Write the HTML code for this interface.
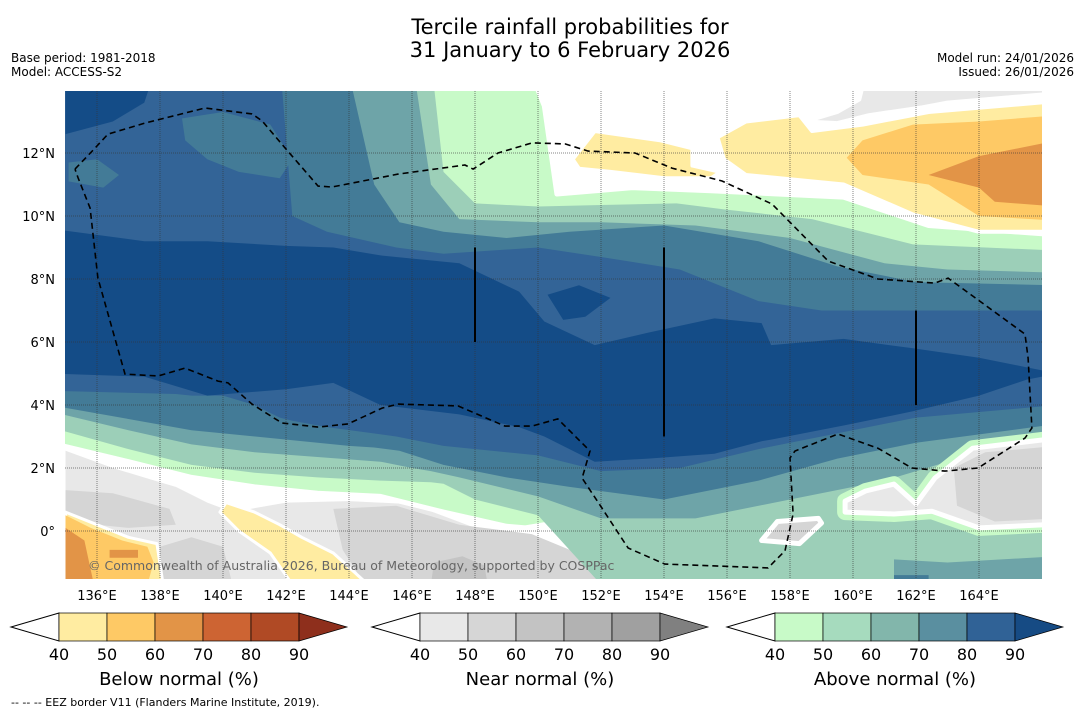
<!DOCTYPE html>
<html><head><meta charset="utf-8"><style>
html,body{margin:0;padding:0;background:#fff;}
svg{display:block;font-family:"DejaVu Sans","Liberation Sans",sans-serif;}
</style></head><body>
<svg id="chart" width="1085" height="713" viewBox="0 0 1085 713">
<defs><clipPath id="mapclip"><rect x="65" y="91" width="977" height="488"/></clipPath></defs>
<text x="570" y="34" text-anchor="middle" font-size="21" fill="#000">Tercile rainfall probabilities for</text>
<text x="570" y="57" text-anchor="middle" font-size="21" fill="#000">31 January to 6 February 2026</text>
<text x="11" y="62" font-size="12">Base period: 1981-2018</text>
<text x="11" y="76" font-size="12">Model: ACCESS-S2</text>
<text x="1074" y="62" font-size="12" text-anchor="end">Model run: 24/01/2026</text>
<text x="1074" y="76" font-size="12" text-anchor="end">Issued: 26/01/2026</text>
<g id="map" clip-path="url(#mapclip)"><rect x="65" y="91" width="977" height="488" fill="#fff"/></g>
<g id="axes"></g>
<g id="bars"></g>
<text x="11" y="706" font-size="11">--  --  -- EEZ border V11 (Flanders Marine Institute, 2019).</text>
</svg>
<script>
// ---- data (lon/lat, degrees) ----
const lonTicks=[136,138,140,142,144,146,148,150,152,154,156,158,160,162,164];
const latTicks=[0,2,4,6,8,10,12];
const latTickLabels=["0°","2°N","4°N","6°N","8°N","10°N","12°N"];
const cbTickLabels=["40","50","60","70","80","90"];

const l1Lon=[135,137,139,141,143,145,147,149,149.6,150.2,150.6,153,155.5,159.7,162.4,166];
const l1N=[15,15,15,15,15,15,15,15,15,13.5,10.7,10.9,10.8,10.6,9.7,9.4];
const l1S=[2.8,2.2,1.7,1.4,1.2,1.1,0.6,0.15,0.1,0.2,0.1,-1.7,-1.7,-1.7,-1.7,-1.7];
const l2Lon=[135,137,139,141,143,145,146.6,147,148,150,152,154.4,156,158.7,161.9,166];
const l2N=[15,15,15,15,15,15,15,11.4,10.4,10.3,10.35,10.4,10.2,9.9,9.1,8.9];
const l2S=[3.3,2.6,2.1,1.85,1.7,1.6,1.55,1.5,1.0,0.5,-1.7,-1.7,-1.7,-1.7,-1.7,-1.7];
const l3Lon=[135,137,139,141,143,145,146,146.6,147.5,150,152,155,158,161,163,166];
const l3N=[15,15,15,15,15,15,15,11.0,9.9,9.8,9.8,9.7,9.3,8.5,8.3,8.2];
const l3S=[3.8,3.2,2.75,2.5,2.35,2.2,2.0,1.9,1.7,1.1,0.4,0.4,1.0,1.6,2.2,3.1];
const l4Lon=[135,139,144,144.8,145.6,147,149,151,154,157,159.5,162,166];
const l4N=[15,15,14.5,11,9.8,9.5,9.3,9.5,9.7,9.2,8.4,7.9,7.8];
const l4S=[4.0,3.2,2.7,2.65,2.55,2.1,1.7,1.4,1.0,1.6,2.3,2.8,3.4];
const l5Lon=[135,138.5,139,140,141,141.8,142.2,143.3,145.5,147,150,152,154.5,157,159,162,166];
const l5N=[15,15,15,15,15,15,10.0,9.5,9.0,8.8,9.0,8.7,8.3,7.3,7.0,7.0,7.0];
const l5S=[4.45,4.35,4.3,4.3,4.0,3.6,3.5,3.3,3.0,2.7,2.4,1.9,2.0,2.6,3.0,3.6,4.0];
const l6Lon=[135,137.5,139.5,142,143.5,145,147.5,149.4,150.2,151.8,153.5,155.6,157.1,157.4,159.7,161.9,164,165.5,166];
const l6N=[9.6,9.2,9.2,9.05,9.0,8.75,8.5,7.6,6.65,5.9,6.3,6.75,6.6,5.9,6.1,5.8,5.5,5.2,5.0];
const l6S=[5.0,4.9,4.3,4.5,4.7,4.0,3.7,3.3,3.0,2.2,2.3,2.45,2.85,2.9,3.35,3.8,4.3,4.8,5.0];

const eezLon=[135.30,135.94,136.35,137.52,139.43,140.92,141.24,141.97,143.02,143.46,145.56,147.68,147.94,148.73,149.81,150.86,151.59,153.08,154.25,155.84,157.43,159.21,160.79,162.60,163.02,165.46,165.56,165.68,165.46,163.97,162.92,161.87,160.79,159.52,158.16,158.00,158.10,157.84,157.30,154.03,152.86,152.03,151.40,151.65,150.63,149.81,148.95,147.46,145.56,145.05,143.97,143.02,141.87,140.92,140.16,139.84,138.79,137.94,136.89,136.03,135.78,135.40,135.30];
const eezLat=[11.49,12.16,12.60,12.95,13.43,13.24,13.02,12.16,10.95,10.92,11.33,11.62,11.49,12.00,12.32,12.29,12.06,12.00,11.52,11.11,10.38,8.57,8.00,7.87,8.03,6.25,5.49,3.27,2.95,2.00,1.90,2.00,2.63,3.08,2.54,2.32,0.54,-0.63,-1.17,-1.05,-0.54,0.73,1.68,2.54,3.56,3.33,3.33,3.97,4.03,3.90,3.40,3.30,3.43,4.03,4.70,4.76,5.17,4.92,4.98,8.03,10.25,11.21,11.49];
const meridLon=[148,154,162];
const meridTop=[9,9,7];
const meridBot=[6,3,4];

// ---- projection ----
function X(lon){return 97+(lon-136)*31.5;}
function Y(lat){return 531-lat*31.5;}
const NS="http://www.w3.org/2000/svg";
const map=document.getElementById('map');
function ptsOf(lons,lats){return lons.map((l,i)=>X(l).toFixed(1)+','+Y(lats[i]).toFixed(1)).join(' ');}
function band(lons,north,south,fill,name,stroke,sw){
  const ls=lons.slice();ls[0]-=0.5;ls[ls.length-1]+=0.5;
  const p=ptsOf(ls,north)+' '+ptsOf(ls.slice().reverse(),south.slice().reverse());
  const el=document.createElementNS(NS,'polygon');
  el.setAttribute('points',p);el.setAttribute('fill',fill);
  if(stroke){el.setAttribute('stroke',stroke);el.setAttribute('stroke-width',sw);el.setAttribute('stroke-linejoin','round');}
  
  
  map.appendChild(el);return el;
}
function poly(lons,lats,fill,name,stroke,sw){
  const el=document.createElementNS(NS,'polygon');
  el.setAttribute('points',ptsOf(lons,lats));el.setAttribute('fill',fill);
  if(stroke){el.setAttribute('stroke',stroke);el.setAttribute('stroke-width',sw);el.setAttribute('stroke-linejoin','round');}
  
  
  map.appendChild(el);return el;
}
// below/near lower-left
poly([135,136.5,138,138.5,139.5,140.3,142,144,146,148,150,152.5,152.5,135],[2.55,2.0,1.55,1.4,0.9,0.6,0.9,0.95,0.85,0.1,-0.2,-1.7,-1.7,-1.7],'#e8e8e8','near-normal-40-sw');
poly([135,136.5,138.3,138.5,137,135],[1.3,1.2,0.7,0.2,0.1,0.3],'#d5d5d5','near-normal-50-blob-a');
poly([138,139,140,140.3,138],[-0.5,-0.2,-0.5,-1.7,-1.7],'#d5d5d5','near-normal-50-blob-c');
poly([143.5,145.5,147.5,149.8,151.5,152.5,144.5,143.8],[0.7,0.8,0.2,-0.1,-0.8,-1.7,-1.7,-0.6],'#d5d5d5','near-normal-50-blob-b');
poly([146.7,147.6,148.3,148.4,146.6],[-1.0,-0.8,-1.1,-1.7,-1.7],'#c4c4c4','near-normal-60-blob');
poly([140.1,141,141.8,142.5,143.5,144.6,142.2,141.5,140.5,139.9],[0.9,0.6,0.2,-0.2,-0.7,-1.7,-1.7,-0.7,0.0,0.6],'#ffeca1','below-normal-40-stripe','#fff',3);
poly([135,136,137,137.9,138.1,135],[0.6,0.2,-0.2,-0.4,-1.7,-1.7],'#ffeca1','below-normal-40-sw','#fff',3);
poly([135,135.8,136.8,137.6,137.8,137.6,135],[0.5,0.1,-0.3,-0.5,-1.0,-1.7,-1.7],'#fec965','below-normal-50-sw');
poly([135,135.6,135.9,135],[0.1,-0.3,-1.7,-1.7],'#e29447','below-normal-60-sw');
poly([136.4,137.3,137.3,136.4],[-0.6,-0.6,-0.85,-0.85],'#e29447','below-normal-60-blob');
// above normal bands
band(l1Lon,l1N,l1S,'#c8fac8','above-normal-40-band','#fff',5);
band(l2Lon,l2N,l2S,'#9ccfb8','above-normal-50-band');
band(l3Lon,l3N,l3S,'#6ea4a8','above-normal-60-band');
band(l4Lon,l4N,l4S,'#437b97','above-normal-70-band');
band(l5Lon,l5N,l5S,'#336497','above-normal-80-band');
band(l6Lon,l6N,l6S,'#144c87','above-normal-90-band');
poly([138.7,140,141.5,142.2,141.8,140.5,139.5,138.8],[13.1,13.3,12.9,11.8,11.2,11.4,11.8,12.4],'#437b97','above-normal-70-n-blob');
poly([135,137.8,137.5,136.5,135],[14.5,14.5,13.6,13.0,12.6],'#144c87','above-normal-90-nw-blob');
poly([135.1,136,136.7,136.2,135.1],[11.7,11.8,11.3,10.9,11.1],'#437b97','above-normal-70-nw-blob');
poly([150.3,151.3,152.3,151.5,150.8],[7.5,7.8,7.4,6.8,6.7],'#144c87','above-normal-90-blob');
poly([161.3,163,166.5,166.5,161.3],[-0.9,-1.0,-0.8,-1.7,-1.7],'#6ea4a8','above-normal-60-se-blob');
poly([161.3,162.4,162.4,161.3],[-1.4,-1.4,-1.7,-1.7],'#437b97','above-normal-70-se-blob');
// near normal SE region
const seLon=[159.75,160.4,161.3,162.0,162.6,163.8,166.5,166.5,164.0,162.5,161.3,159.75];
const seLat=[0.95,1.27,1.49,0.86,1.68,2.63,2.95,0.22,0.1,0.63,0.54,0.6];
poly(seLon,seLat,'#c8fac8','above-normal-40-se-rim','#c8fac8',16);
poly(seLon,seLat,'#e8e8e8','near-normal-40-se','#fff',5);
poly([163.2,164.2,166.5,166.5,164.5,163.3],[2.0,2.5,2.7,0.4,0.3,0.8],'#d5d5d5','near-normal-50-se');
poly([157.1,157.6,158.9,159.0,158.3],[-0.3,0.3,0.4,0.25,-0.4],'#d5d5d5','near-normal-50-island','#fff',5);
// top right below-normal
poly([158.5,159.5,160.2,160.4,166.5,166.5,163,162.2,160.5,159.5],[13.0,13.3,13.7,14.5,14.5,13.9,13.6,13.45,13.2,12.95],'#e8e8e8','near-normal-40-ne','#fff',4);
poly([151.1,151.8,153.9,154.9,154.9,155.8,155.5,154.0,152.3,151.3],[11.8,12.7,12.4,12.15,11.6,11.4,11.2,11.2,11.4,11.5],'#ffeca1','below-normal-40-blob','#fff',4);
poly([155.7,156.6,158.3,158.7,160.3,162.4,166.5,166.5,164.0,161.9,159.7,156.6,155.9],[12.5,13.0,13.2,12.7,12.9,13.3,13.65,9.5,9.5,10.05,11.0,11.3,11.8],'#ffeca1','below-normal-40-ne','#fff',4);
poly([159.8,160.3,161.9,164.0,166.5,166.5,164.0,162.4,160.3],[11.85,12.4,12.9,13.0,13.2,9.85,10.0,11.0,11.3],'#fec965','below-normal-50-ne');
poly([162.4,164,166.5,166.5,164.5,164],[11.3,11.9,12.4,10.3,10.45,10.9],'#e29447','below-normal-60-ne');
// gridlines
lonTicks.forEach(l=>{const g=document.createElementNS(NS,'line');g.setAttribute('x1',X(l));g.setAttribute('x2',X(l));g.setAttribute('y1',91);g.setAttribute('y2',579);g.setAttribute('stroke','#333');g.setAttribute('stroke-opacity','0.6');g.setAttribute('stroke-width','1');g.setAttribute('stroke-dasharray','1,1');


map.appendChild(g);});
latTicks.forEach(l=>{const g=document.createElementNS(NS,'line');g.setAttribute('x1',65);g.setAttribute('x2',1042);g.setAttribute('y1',Y(l));g.setAttribute('y2',Y(l));g.setAttribute('stroke','#333');g.setAttribute('stroke-opacity','0.6');g.setAttribute('stroke-width','1');g.setAttribute('stroke-dasharray','1,1');


map.appendChild(g);});
// boundary lines
meridLon.forEach((l,i)=>{const g=document.createElementNS(NS,'line');g.setAttribute('x1',X(l));g.setAttribute('x2',X(l));g.setAttribute('y1',Y(meridTop[i]));g.setAttribute('y2',Y(meridBot[i]));g.setAttribute('stroke','#000');g.setAttribute('stroke-width','2');


map.appendChild(g);});
const eez=document.createElementNS(NS,'polyline');
eez.setAttribute('points',ptsOf(eezLon,eezLat));eez.setAttribute('fill','none');eez.setAttribute('stroke','#000');eez.setAttribute('stroke-width','1.6');eez.setAttribute('stroke-dasharray','6,4');


map.appendChild(eez);
const wm=document.createElementNS(NS,'text');
wm.setAttribute('x',88);wm.setAttribute('y',570);wm.setAttribute('font-size','12.5');wm.setAttribute('fill','#666');wm.textContent='© Commonwealth of Australia 2026, Bureau of Meteorology, supported by COSPPac';


map.appendChild(wm);
// axes labels
const axes=document.getElementById('axes');
lonTicks.forEach(l=>{const t=document.createElementNS(NS,'text');t.setAttribute('x',X(l));t.setAttribute('y',600);t.setAttribute('text-anchor','middle');t.setAttribute('font-size','13');t.textContent=l+'°E';


axes.appendChild(t);});
latTicks.forEach((l,i)=>{const t=document.createElementNS(NS,'text');t.setAttribute('x',55);t.setAttribute('y',Y(l)+5);t.setAttribute('text-anchor','end');t.setAttribute('font-size','13');t.textContent=latTickLabels[i];


axes.appendChild(t);});
// colorbars
const bars=document.getElementById('bars');
const cbStarts=[59,420,775];
const cbTitles=['Below normal (%)','Near normal (%)','Above normal (%)'];
const cbNames=['below-normal-colorbar','near-normal-colorbar','above-normal-colorbar'];
const cbColors=[['#ffeca1','#fec965','#e29447','#cd6433','#b04a25','#8e2f1c'],['#e8e8e8','#d6d6d6','#c3c3c3','#b2b2b2','#a0a0a0','#808080'],['#c8fac8','#a6dbbe','#82b6ab','#5a8fa0','#306296','#164b84']];
cbStarts.forEach((x0,k)=>{
  const g=document.createElementNS(NS,'g');
  
  
  bars.appendChild(g);
  const y0=613,h=28,w=48;
  const lt=document.createElementNS(NS,'polygon');
  lt.setAttribute('points',(x0)+','+y0+' '+(x0-48)+','+(y0+h/2)+' '+x0+','+(y0+h));lt.setAttribute('fill','#fff');lt.setAttribute('stroke','#000');lt.setAttribute('stroke-width','1');
  
  
  g.appendChild(lt);
  for(let i=0;i<5;i++){const r=document.createElementNS(NS,'rect');r.setAttribute('x',x0+i*w);r.setAttribute('y',y0);r.setAttribute('width',w);r.setAttribute('height',h);r.setAttribute('fill',cbColors[k][i]);r.setAttribute('stroke','#000');r.setAttribute('stroke-width','0.7');
  
  
  g.appendChild(r);}
  const xe=x0+5*w;
  const rt=document.createElementNS(NS,'polygon');
  rt.setAttribute('points',xe+','+y0+' '+(xe+48)+','+(y0+h/2)+' '+xe+','+(y0+h));rt.setAttribute('fill',cbColors[k][5]);rt.setAttribute('stroke','#000');rt.setAttribute('stroke-width','0.7');
  
  
  g.appendChild(rt);
  cbTickLabels.forEach((s,i)=>{const t=document.createElementNS(NS,'text');t.setAttribute('x',x0+i*w);t.setAttribute('y',660);t.setAttribute('text-anchor','middle');t.setAttribute('font-size','16');t.textContent=s;
  
  
  g.appendChild(t);});
  const tt=document.createElementNS(NS,'text');tt.setAttribute('x',x0+120);tt.setAttribute('y',685);tt.setAttribute('text-anchor','middle');tt.setAttribute('font-size','18');tt.textContent=cbTitles[k];
  
  
  g.appendChild(tt);
});
</script>
</body></html>
